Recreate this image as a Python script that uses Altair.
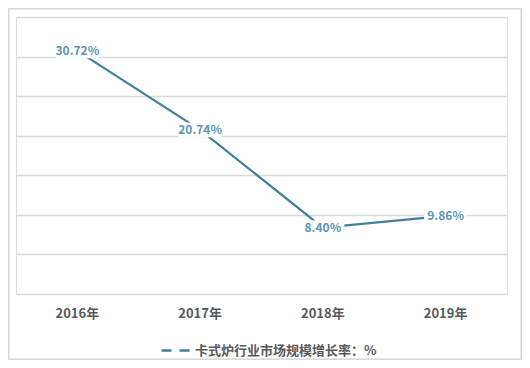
import altair as alt
import pandas as pd

years = ["2016年", "2017年", "2018年", "2019年"]
rates = [30.72, 20.74, 8.40, 9.86]
labels = ["30.72%", "20.74%", "8.40%", "9.86%"]
series = "卡式炉行业市场规模增长率：%"

df = pd.DataFrame({"year": years, "rate": rates, "label": labels, "series": [series] * 4})

W, H = 491, 277
FONT = "Noto Sans CJK SC"

x = alt.X("year:N", sort=years, title=None,
          scale=alt.Scale(type="band", paddingInner=0, paddingOuter=0),
          axis=alt.Axis(labelAngle=0, domain=False, ticks=False, grid=False,
                        labelPadding=13, labelFontSize=13, labelFontWeight="bold",
                        labelColor="#595959", labelFont=FONT))
y = alt.Y("rate:Q", title=None,
          scale=alt.Scale(domain=[0, 35], nice=False, zero=True),
          axis=alt.Axis(values=[0, 5, 10, 15, 20, 25, 30, 35], labels=False, domain=False,
                        ticks=False, grid=True, gridColor="#d9d9d9", gridWidth=1.3))

base = alt.Chart(df)

line = base.mark_line(strokeWidth=2.2, color="#41809b").encode(
    x=x, y=y,
    color=alt.Color("series:N", scale=alt.Scale(range=["#41809b"]), title=None,
                    legend=alt.Legend(orient="none", legendX=144, legendY=318,
                                      symbolType="stroke", symbolSize=784,
                                      symbolDash=[10, 8], symbolStrokeWidth=2.5,
                                      symbolStrokeColor="#41809b",
                                      labelFont=FONT, labelFontSize=13, labelFontWeight="bold",
                                      labelColor="#595959", labelOffset=4, labelLimit=400))
)

boxes = base.mark_point(shape="M-1,-0.34L1,-0.34L1,0.34L-1,0.34Z", filled=True,
                        fill="white", opacity=1, strokeWidth=0, size=1850).encode(x=x, y=y)

text = base.mark_text(font=FONT, fontSize=12, fontWeight="bold", color="#5b95b8",
                      baseline="middle", align="center").encode(x=x, y=y, text="label:N")

border = base.mark_rect(fill=None, stroke="#d9d9d9", strokeWidth=1.5).encode(
    x=alt.value(-7.5), x2=alt.value(W + 14.5), y=alt.value(-8.5), y2=alt.value(H + 65.5))

chart = alt.layer(border, line, boxes, text).properties(
    width=W, height=H,
    autosize=alt.AutoSizeParams(type="none"),
    padding={"left": 8, "top": 9, "right": 15, "bottom": 66},
).configure_view(stroke=None).configure(background="white")

chart.save("out.html", embed_options={"renderer": "svg", "actions": False})
